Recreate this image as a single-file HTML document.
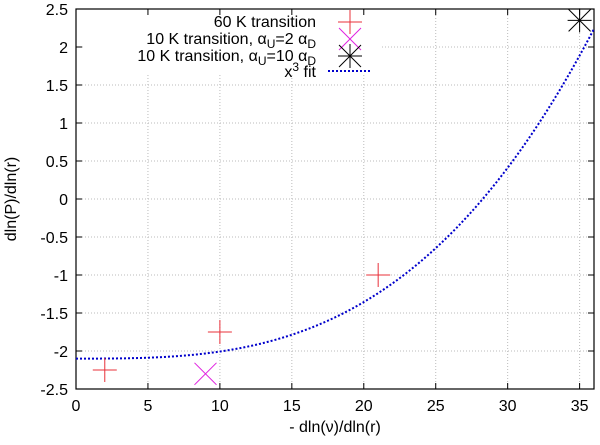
<!DOCTYPE html>
<html><head><meta charset="utf-8"><style>
body{margin:0;background:#fff}
text{font-family:"Liberation Sans",sans-serif;font-size:16px;fill:#000}
</style></head><body>
<svg id="c" width="600" height="440" xmlns="http://www.w3.org/2000/svg"></svg>
<script>
const xTicks=[0,5,10,15,20,25,30,35];
const yTicks=[-2.5,-2,-1.5,-1,-0.5,0,0.5,1,1.5,2,2.5];
const s60x=[2,10,21], s60y=[-2.25,-1.75,-1];
const s2x=[9], s2y=[-2.3];
const s10x=[35], s10y=[2.35];
const fitC=-2.1, fitA=9.3e-5;
const L=76,R=594,T=9,B=389;
const X=v=>L+(v-0)/(36-0)*(R-L);
const Y=v=>B-(v+2.5)/5*(B-T);
const svg=document.getElementById('c');const NS='http://www.w3.org/2000/svg';
function el(t,a,p){const e=document.createElementNS(NS,t);for(const k in a)e.setAttribute(k,a[k]);(p||svg).appendChild(e);return e;}
xTicks.forEach(v=>{
 const g=el('line',{x1:X(v),x2:X(v),y1:T,y2:B,stroke:'#bbb','stroke-dasharray':'1,2'});
 
 
});
yTicks.forEach(v=>{
 const g=el('line',{x1:L,x2:R,y1:Y(v),y2:Y(v),stroke:'#bbb','stroke-dasharray':'1,2'});
 
 
});
el('rect',{x:L+8,y:11,width:296,height:64,fill:'#fff'});
xTicks.forEach(v=>{
 el('line',{x1:X(v),x2:X(v),y1:B,y2:B-6,stroke:'#000'});el('line',{x1:X(v),x2:X(v),y1:T,y2:T+6,stroke:'#000'});
 const t=el('text',{x:X(v),y:B+22,'text-anchor':'middle'});t.textContent=v;
 
 
});
yTicks.forEach(v=>{
 el('line',{x1:L,x2:L+6,y1:Y(v),y2:Y(v),stroke:'#000'});el('line',{x1:R,x2:R-6,y1:Y(v),y2:Y(v),stroke:'#000'});
 const t=el('text',{x:L-8,y:Y(v)+6,'text-anchor':'end'});t.textContent=v;
 
 
});
const fr=el('rect',{x:L,y:T,width:R-L,height:B-T,fill:'none',stroke:'#000','stroke-width':1.2});


let d='';for(let i=0;i<=200;i++){const v=i*36/200;const y=fitC+fitA*v*v*v;d+=(i?'L':'M')+X(v)+','+Y(y);}
const fit=el('path',{d:d,fill:'none',stroke:'#0000cc','stroke-width':2,'stroke-dasharray':'2,2'});


function plus(x,y,c,n){const g=el('g',{stroke:c,'stroke-width':1});el('line',{x1:x-12,x2:x+12,y1:y,y2:y},g);el('line',{x1:x,x2:x,y1:y-12,y2:y+12},g);return g;}
function cross(x,y,c,n){const g=el('g',{stroke:c,'stroke-width':1});el('line',{x1:x-11,x2:x+11,y1:y-11,y2:y+11},g);el('line',{x1:x-11,x2:x+11,y1:y+11,y2:y-11},g);return g;}
function star(x,y,c,n){const g=cross(x,y,c,n);el('line',{x1:x-12,x2:x+12,y1:y,y2:y},g);el('line',{x1:x,x2:x,y1:y-12,y2:y+12},g);return g;}
s60x.forEach((v,i)=>plus(X(v),Y(s60y[i]),'#e8303a','point-60k'));
s2x.forEach((v,i)=>cross(X(v),Y(s2y[i]),'#e020e0','point-10k-a2'));
s10x.forEach((v,i)=>star(X(v),Y(s10y[i]),'#000','point-10k-a10'));
const lg=el('g',{});
function lt(y,html){const t=el('text',{x:316,y:y,'text-anchor':'end'},lg);t.innerHTML=html;return t;}
lt(27,'60 K transition');
lt(44,'10 K transition, α<tspan dy="4" font-size="12">U</tspan><tspan dy="-4">=2 α</tspan><tspan dy="4" font-size="12">D</tspan>');
lt(61,'10 K transition, α<tspan dy="4" font-size="12">U</tspan><tspan dy="-4">=10 α</tspan><tspan dy="4" font-size="12">D</tspan>');
lt(77,'x<tspan dy="-6" font-size="12">3</tspan><tspan dy="6"> fit</tspan>');
plus(350,22,'#e8303a','legend-60k');cross(350,39,'#e020e0','legend-10k-a2');star(350,56,'#000','legend-10k-a10');
el('line',{x1:328,x2:370,y1:71,y2:71,stroke:'#0000cc','stroke-width':2,'stroke-dasharray':'2,2'},lg);
const xt=el('text',{x:335,y:432,'text-anchor':'middle'});xt.textContent='- dln(ν)/dln(r)';

const yt=el('text',{x:16,y:199,'text-anchor':'middle',transform:'rotate(-90 16 199)'});yt.textContent='dln(P)/dln(r)';

</script>
</body></html>
